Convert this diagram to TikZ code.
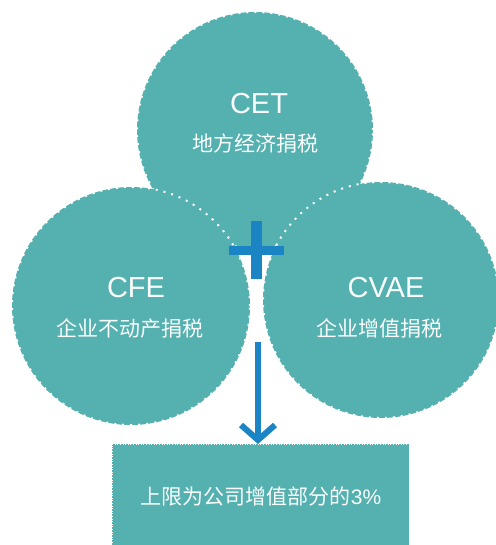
\documentclass[tikz,border=0pt]{standalone}
\usepackage{fontspec}
\setmainfont{Liberation Sans}
\newfontfamily\cjk{Noto Sans CJK SC}
\usetikzlibrary{arrows.meta}
\definecolor{teal1}{RGB}{84,177,176}
\definecolor{blue1}{RGB}{26,132,196}
\definecolor{txt}{RGB}{250,252,252}
\tikzset{
  bubble/.style={circle, fill=teal1, draw=white, line width=2pt, dash pattern=on 2pt off 6pt, inner sep=0pt, outer sep=0pt, minimum size=#1},
  title/.style={text=txt, font=\fontsize{29}{30}\selectfont, anchor=base, inner sep=0pt},
  sub/.style={text=txt, font=\cjk\fontsize{21}{22}\selectfont, anchor=base, inner sep=0pt},
  barbox/.style={fill=blue1, draw=none},
  linkarrow/.style={draw=blue1, line width=6pt, -{Straight Barb[length=15pt, width=34pt]}}
}
\begin{document}
\begin{tikzpicture}[x=1pt, y=-1pt]
\useasboundingbox (0,0) rectangle (495,545);
% circles
\node[bubble=236pt] (cet) at (255,130) {};
\node[bubble=238pt] (cfe) at (131,306) {};
\node[bubble=236pt] (cvae) at (381,300) {};
% texts
\node[title] (cett) at (259,114) {CET};
\node[sub] (cets) at (255,152) {地方经济捐税};
\node[title] (cfet) at (136,297) {CFE};
\node[sub] (cfes) at (130,336) {企业不动产捐税};
\node[title] (cvaet) at (386,297) {CVAE};
\node[sub] (cvaes) at (379,336) {企业增值捐税};
% plus
\path[barbox] (251,221) rectangle (262,279);
\path[barbox] (229,246) rectangle (284,255);
% result box
\node[fill=teal1, draw=white, line width=0.6pt, dotted, minimum width=297pt, minimum height=101pt, inner sep=0pt, outer sep=0pt, anchor=north west] (res) at (112,444) {};
\node[text=txt, font=\fontsize{21}{22}\selectfont, anchor=base, inner sep=0pt] (rest) at (261,504) {{\cjk 上限为公司增值部分的}3\%};
% arrow
\coordinate (astart) at (258,342);
\draw[linkarrow] (astart) -- (astart |- res.north);
\end{tikzpicture}
\end{document}
